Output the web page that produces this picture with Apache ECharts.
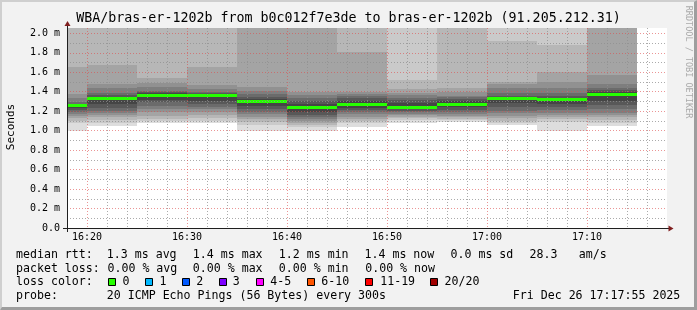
<!DOCTYPE html>
<html><head><meta charset="utf-8">
<script src="https://cdn.jsdelivr.net/npm/echarts@6/dist/echarts.min.js"></script>
<style>html,body{margin:0;padding:0;background:#f2f2f2}#c{width:697px;height:310px}</style>
</head><body><div id="c"></div>
<script>
// ---- data (minutes after 16:00, values in ms) ----
const bucketStarts = [15, 20, 25, 30, 35, 40, 45, 50, 55, 60, 65, 70];
const bucketLength = 5;
const medianRtt = [1.254, 1.326, 1.365, 1.362, 1.295, 1.241, 1.270, 1.241, 1.270, 1.334, 1.318, 1.369];
const lossCount = [0, 0, 0, 0, 0, 0, 0, 0, 0, 0, 0, 0];
// 20 sorted ping rtts per 5-minute bucket
const pings1615 = [1.000, 1.077, 1.100, 1.126, 1.147, 1.172, 1.193, 1.213, 1.234, 1.248, 1.260, 1.268, 1.278, 1.292, 1.333, 1.374, 1.657, 2.2, 2.6, 3.2];
const pings1620 = [1.049, 1.083, 1.111, 1.138, 1.162, 1.183, 1.203, 1.234, 1.275, 1.311, 1.342, 1.350, 1.362, 1.385, 1.436, 1.477, 1.675, 2.2, 2.5, 2.9];
const pings1625 = [1.077, 1.095, 1.121, 1.152, 1.190, 1.225, 1.255, 1.290, 1.316, 1.357, 1.372, 1.382, 1.393, 1.408, 1.444, 1.490, 1.542, 2.2, 2.5, 2.9];
const pings1630 = [1.075, 1.095, 1.126, 1.162, 1.193, 1.218, 1.244, 1.275, 1.306, 1.354, 1.370, 1.380, 1.390, 1.401, 1.429, 1.470, 1.657, 2.2, 2.5, 2.9];
const pings1635 = [1.001, 1.059, 1.085, 1.115, 1.142, 1.167, 1.193, 1.224, 1.254, 1.285, 1.311, 1.326, 1.347, 1.377, 1.411, 1.452, 2.2, 2.4, 2.7, 3.1];
const pings1640 = [1.001, 1.034, 1.054, 1.075, 1.095, 1.116, 1.142, 1.162, 1.193, 1.227, 1.254, 1.275, 1.306, 1.336, 1.367, 1.401, 2.2, 2.4, 2.7, 3.1];
const pings1645 = [1.036, 1.075, 1.101, 1.121, 1.142, 1.167, 1.188, 1.213, 1.234, 1.257, 1.283, 1.306, 1.331, 1.357, 1.377, 1.401, 1.811, 2.3, 2.6, 3.0];
const pings1650 = [1.083, 1.106, 1.126, 1.142, 1.157, 1.172, 1.188, 1.203, 1.218, 1.228, 1.255, 1.285, 1.316, 1.336, 1.362, 1.385, 1.429, 1.521, 2.3, 2.7];
const pings1655 = [1.093, 1.106, 1.121, 1.136, 1.152, 1.172, 1.193, 1.213, 1.240, 1.257, 1.283, 1.300, 1.330, 1.345, 1.360, 1.401, 1.436, 2.2, 2.5, 2.9];
const pings1700 = [1.059, 1.080, 1.101, 1.126, 1.152, 1.178, 1.203, 1.244, 1.285, 1.326, 1.342, 1.350, 1.360, 1.385, 1.436, 1.477, 1.504, 1.921, 2.4, 2.8];
const pings1705 = [1.001, 1.093, 1.115, 1.136, 1.157, 1.183, 1.208, 1.239, 1.275, 1.308, 1.328, 1.340, 1.360, 1.390, 1.436, 1.504, 1.606, 1.880, 2.4, 2.8];
const pings1710 = [1.049, 1.083, 1.111, 1.136, 1.157, 1.183, 1.224, 1.265, 1.306, 1.361, 1.377, 1.398, 1.419, 1.440, 1.477, 1.572, 2.2, 2.5, 2.8, 3.1];
const bucketPings = [pings1615, pings1620, pings1625, pings1630, pings1635, pings1640, pings1645, pings1650, pings1655, pings1700, pings1705, pings1710];

const yTickLabels = ['0.0', '0.2 m', '0.4 m', '0.6 m', '0.8 m', '1.0 m', '1.2 m', '1.4 m', '1.6 m', '1.8 m', '2.0 m'];
const xTickLabels = ['16:20', '16:30', '16:40', '16:50', '17:00', '17:10'];

const lossLabels = ['0', '1', '2', '3', '4-5', '6-10', '11-19', '20/20'];
const lossColors = ['#26ff00', '#00b8ff', '#0059ff', '#7e00ff', '#ff00ff', '#ff5500', '#ff0000', '#a10000'];
const smokeShades = ['#dddddd', '#cacaca', '#b7b7b7', '#a4a4a4', '#919191', '#7e7e7e', '#6b6b6b', '#585858', '#454545', '#323232'];

// ---- layout ----
const G = { left: 67, top: 28, width: 600, height: 200 };
const FONT = '"DejaVu Sans Mono", monospace';
const MGRID = 'rgba(222,79,79,0.6)';
const GRID = 'rgba(143,143,143,0.75)';

const chart = echarts.init(document.getElementById('c'), null, { renderer: 'canvas' });

function renderSmoke(params, api) {
  const i = api.value(2);
  const ps = bucketPings[i];
  const x0 = Math.round(api.coord([api.value(0), 0])[0]);
  const x1 = Math.round(api.coord([api.value(1), 0])[0]);
  const children = [];
  for (let k = 0; k < 10; k++) {
    const yTop = Math.round(api.coord([0, ps[19 - k]])[1]);
    const yBot = Math.round(api.coord([0, ps[k]])[1]);
    children.push({ type: 'rect', shape: { x: x0, y: yTop, width: x1 - x0, height: yBot - yTop }, style: { fill: smokeShades[k] } });
  }
  return { type: 'group', children };
}
function lossIndex(n) {
  if (n <= 3) return n;
  if (n <= 5) return 4;
  if (n <= 10) return 5;
  if (n <= 19) return 6;
  return 7;
}
function renderMedian(params, api) {
  const x0 = Math.round(api.coord([api.value(0), 0])[0]);
  const x1 = Math.round(api.coord([api.value(1), 0])[0]);
  const yc = api.coord([0, api.value(2)])[1];
  return { type: 'rect', shape: { x: x0, y: Math.round(yc - 1.5), width: x1 - x0, height: 3 }, style: { fill: lossColors[lossIndex(api.value(3))] } };
}

function fmtTime(v) {
  const h = 16 + Math.floor(v / 60), m = Math.round(v % 60);
  return h + ':' + (m < 10 ? '0' + m : m);
}

function txt(x, y, s, size, extra) {
  return Object.assign({ type: 'text', x: x, y: y, z: 20, silent: true,
    style: { text: s, font: size + 'px ' + FONT, fill: '#000', align: 'left', verticalAlign: 'middle' } }, extra || {});
}

const L = 11.6;
const rows = [255, 268.6, 282.2, 295.8];
const TITLE = 'WBA/bras-er-1202b from b0c012f7e3de to bras-er-1202b (91.205.212.31)';
const graphics = [
  { type: 'polygon', z: 20, shape: { points: [[0,0],[697,0],[695,2],[2,2],[2,308],[0,310]] }, style: { fill: '#cfcfcf' } },
  { type: 'polygon', z: 20, shape: { points: [[697,0],[697,310],[0,310],[2,307],[694,307],[694,2]] }, style: { fill: '#9e9e9e' } },
  txt(348.5, 18.8, TITLE, 13.3, { style: { text: TITLE, font: '13.3px ' + FONT, fill: '#000', align: 'center', verticalAlign: 'middle' } }),
  txt(11, 127, 'Seconds', 11, { rotation: Math.PI / 2, style: { text: 'Seconds', font: '11px ' + FONT, fill: '#000', align: 'center', verticalAlign: 'middle' } }),
  txt(688.5, 62, 'RRDTOOL / TOBI OETIKER', 8.5, { rotation: -Math.PI / 2, style: { text: 'RRDTOOL / TOBI OETIKER', font: '8.5px ' + FONT, fill: '#aaaaaa', align: 'center', verticalAlign: 'middle' } }),
  // axis extensions + arrows
  { type: 'line', z: 20, shape: { x1: 63, y1: 228.5, x2: 669, y2: 228.5 }, style: { stroke: '#1f1f1f', lineWidth: 1 } },
  { type: 'line', z: 20, shape: { x1: 67.5, y1: 232, x2: 67.5, y2: 25 }, style: { stroke: '#1f1f1f', lineWidth: 1 } },
  { type: 'polygon', z: 21, shape: { points: [[673.5,228.5],[668.5,225.5],[668.5,231.5]] }, style: { fill: '#801f1f' } },
  { type: 'polygon', z: 21, shape: { points: [[67.5,21],[64.5,26],[70.5,26]] }, style: { fill: '#801f1f' } },
  // legend
  txt(16, rows[0], 'median rtt:', L), txt(106.8, rows[0], '1.3 ms avg', L), txt(192.8, rows[0], '1.4 ms max', L),
  txt(278.8, rows[0], '1.2 ms min', L), txt(364.5, rows[0], '1.4 ms now', L), txt(450.5, rows[0], '0.0 ms sd', L),
  txt(529.5, rows[0], '28.3', L), txt(578.8, rows[0], 'am/s', L),
  txt(16, rows[1], 'packet loss:', L), txt(107.5, rows[1], '0.00 % avg', L), txt(192.8, rows[1], '0.00 % max', L),
  txt(278.8, rows[1], '0.00 % min', L), txt(365.2, rows[1], '0.00 % now', L),
  txt(16, rows[2], 'loss color:', L),
  txt(16, rows[3], 'probe:', L), txt(106.8, rows[3], '20 ICMP Echo Pings (56 Bytes) every 300s', L),
  txt(512.8, rows[3], 'Fri Dec 26 17:17:55 2025', L)
];
const sqX = [108.5, 145.5, 182.5, 219.5, 256.5, 307.5, 365.5, 430.5];
const lblX = [122.5, 159.5, 196.2, 232.8, 270.2, 321.2, 380.2, 444.5];
for (let i = 0; i < lossLabels.length; i++) {
  graphics.push({ type: 'rect', z: 20, shape: { x: sqX[i], y: 278.5, width: 7, height: 7 }, style: { fill: lossColors[i], stroke: '#000', lineWidth: 1 } });
  graphics.push(txt(lblX[i], rows[2], lossLabels[i], L));
}

chart.setOption({
  animation: false,
  backgroundColor: '#f2f2f2',
  grid: { left: G.left, top: G.top, width: G.width, height: G.height, show: true, backgroundColor: '#ffffff', borderWidth: 0, containLabel: false },
  xAxis: {
    type: 'value', min: 18, max: 78, interval: 2, z: 5,
    axisLine: { show: true, onZero: false, lineStyle: { color: '#1f1f1f', width: 1 } },
    axisTick: { show: false },
    axisLabel: {
      margin: 4, color: '#000', fontFamily: FONT, fontSize: 10,
      formatter: function (v) {
        const m = Math.round(v);
        if (m % 10 !== 0) return '';
        const s = fmtTime(m);
        return xTickLabels.indexOf(s) >= 0 ? s : '';
      }
    },
    splitLine: { show: true, showMaxLine: false, lineStyle: { color: [GRID, MGRID, GRID, GRID, GRID], type: [1, 2], width: 1 } }
  },
  yAxis: {
    type: 'value', min: 0, max: 2.055, interval: 0.1, z: 5,
    axisLine: { show: true, lineStyle: { color: '#1f1f1f', width: 1 } },
    axisTick: { show: false },
    axisLabel: {
      margin: 7, color: '#000', fontFamily: FONT, fontSize: 10,
      formatter: function (v) {
        const t = Math.round(v * 10);
        if (t % 2 !== 0 || Math.abs(v * 10 - t) > 1e-6) return '';
        return yTickLabels[t / 2] || '';
      }
    },
    splitLine: { show: true, showMaxLine: false, lineStyle: { color: [MGRID, GRID], type: [1, 2], width: 1 } }
  },
  series: [
    {
      type: 'custom', name: 'smoke', clip: true, z: 2,
      renderItem: renderSmoke,
      encode: { x: [0, 1], y: 2 },
      data: bucketStarts.map((s, i) => [s, s + bucketLength, i])
    },
    {
      type: 'custom', name: 'median', clip: true, z: 3,
      renderItem: renderMedian,
      encode: { x: [0, 1], y: 2 },
      data: bucketStarts.map((s, i) => [s, s + bucketLength, medianRtt[i], lossCount[i]])
    }
  ],
  graphic: { elements: graphics }
});
</script>
</body></html>
